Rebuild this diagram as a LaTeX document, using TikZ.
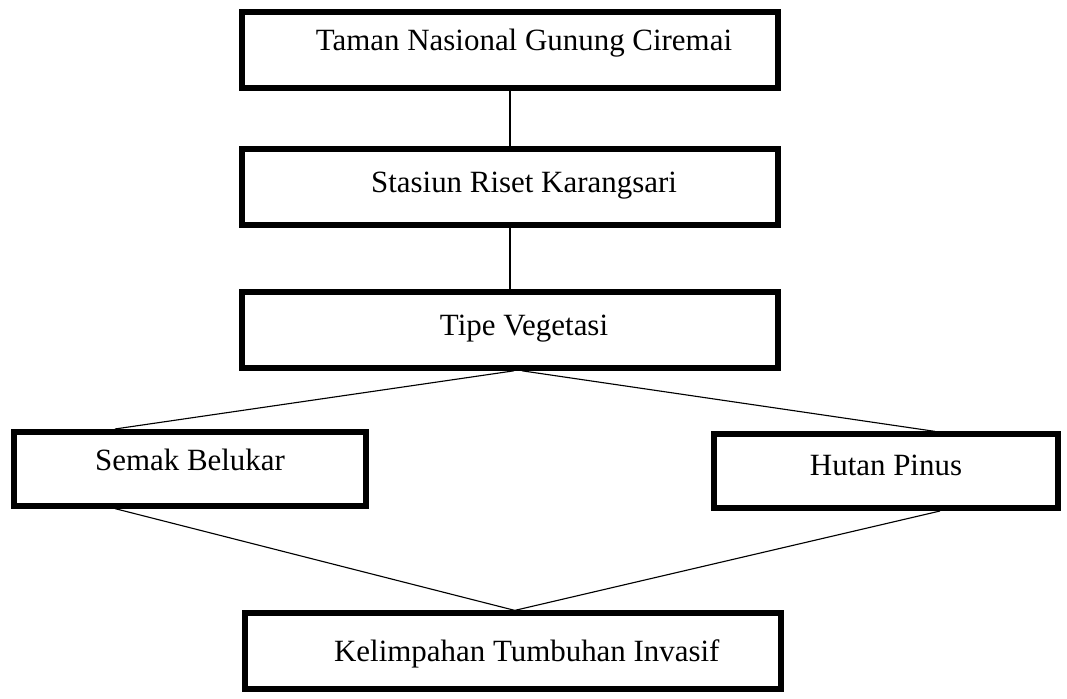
\documentclass[tikz,border=0pt]{standalone}
\usepackage{fontspec}
\setmainfont{Liberation Serif}
\tikzset{
  kotak/.style={draw, line width=4pt, inner sep=0pt, minimum width=13.4cm, minimum height=1.9cm,
    text height=0.72cm, text depth=0.28cm, font=\fontsize{22}{25}\selectfont},
  naik/.style={text depth=#1},
  garis/.style={line width=0.8pt}
}
\newcommand{\geser}{\hspace*{0.7cm}}
\begin{document}
\begin{tikzpicture}
\useasboundingbox (0,0) rectangle (26.675,-17.475);
\node[kotak, naik=0.7cm] (taman) at (12.75,-1.25) {\geser Taman Nasional Gunung Ciremai};
\node[kotak, naik=0.45cm] (stasiun) at (12.75,-4.68) {\geser Stasiun Riset Karangsari};
\node[kotak, naik=0.45cm] (tipe) at (12.75,-8.25) {\geser Tipe Vegetasi};
\node[kotak, naik=0.65cm, minimum width=8.8cm, minimum height=1.85cm] (semak) at (4.75,-11.72) {Semak Belukar};
\node[kotak, naik=0.5cm, minimum width=8.6cm, minimum height=1.85cm] (hutan) at (22.15,-11.78) {Hutan Pinus};
\node[kotak, naik=0.2cm] (kelimpahan) at (12.82,-16.28) {\geser Kelimpahan Tumbuhan Invasif};
\draw[garis] (taman) -- (stasiun);
\draw[garis] (stasiun) -- (tipe);
\draw[garis] ([xshift=0.1cm]tipe.south) -- ([xshift=-1.875cm]semak.north);
\draw[garis] ([xshift=0.3cm]tipe.south) -- ([xshift=1.225cm]hutan.north);
\draw[garis] ([xshift=-1.875cm]semak.south) -- ([xshift=0.05cm]kelimpahan.north);
\draw[garis] ([xshift=1.35cm]hutan.south) -- ([xshift=0.05cm]kelimpahan.north);
\end{tikzpicture}
\end{document}
